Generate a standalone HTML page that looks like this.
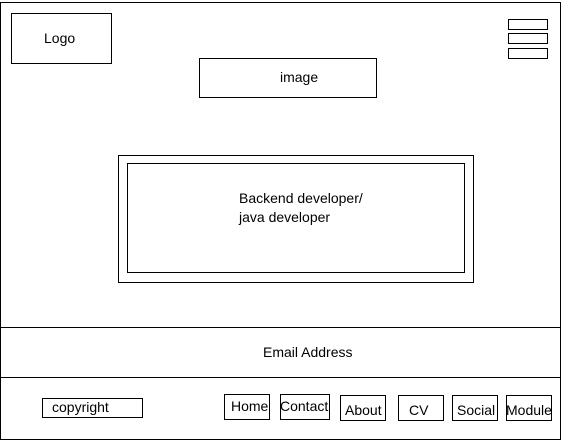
<!DOCTYPE html>
<html><head><style>body{margin:0;background:#fff}svg{display:block}text{font-family:"Liberation Sans",sans-serif;font-size:14px;fill:#000}</style></head>
<body>
<svg width="564" height="445" xmlns="http://www.w3.org/2000/svg">
<g fill="none" stroke="#000" stroke-width="1">
<rect x="0.5" y="2.5" width="560" height="437"/>
<rect x="11.5" y="13.5" width="100" height="50"/>
<rect x="508.5" y="19.5" width="39" height="10"/>
<rect x="508.5" y="33.5" width="39" height="10"/>
<rect x="508.5" y="48.5" width="39" height="10"/>
<rect x="199.5" y="58.5" width="177" height="39"/>
<rect x="118.5" y="155.5" width="355" height="127"/>
<rect x="127.5" y="163.5" width="337" height="109"/>
<line x1="0" y1="327.5" x2="561" y2="327.5"/>
<line x1="0" y1="377.5" x2="561" y2="377.5"/>
<rect x="42.5" y="398.5" width="100" height="19"/>
<rect x="224.5" y="394.5" width="45" height="25"/>
<rect x="280.5" y="394.5" width="49" height="25"/>
<rect x="340.5" y="395.5" width="45" height="25"/>
<rect x="398.5" y="395.5" width="45" height="25"/>
<rect x="452.5" y="395.5" width="45" height="25"/>
<rect x="506.5" y="395.5" width="45" height="25"/>
</g>
<text x="44" y="43">Logo</text>
<text x="280" y="82">image</text>
<text x="239" y="203">Backend developer/</text>
<text x="239" y="222">java developer</text>
<text x="263" y="357">Email Address</text>
<text x="52" y="412">copyright</text>
<text x="231" y="411">Home</text>
<text x="280" y="411">Contact</text>
<text x="345" y="415">About</text>
<text x="409" y="415">CV</text>
<text x="457" y="415">Social</text>
<text x="506" y="415">Module</text>
</svg>
</body></html>
